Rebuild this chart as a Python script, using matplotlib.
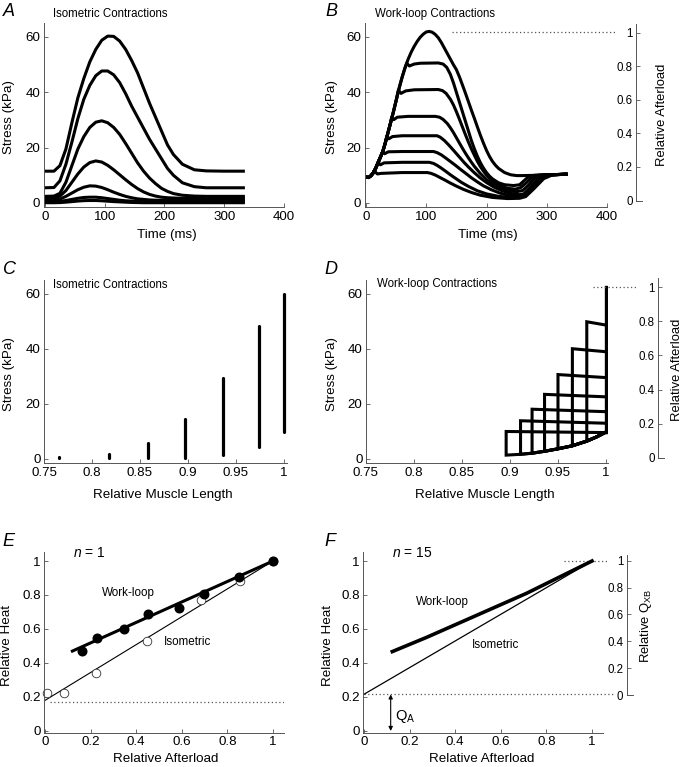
import matplotlib
matplotlib.use("Agg")
import matplotlib.pyplot as plt
import matplotlib.ticker as mticker

plt.rcParams["font.family"] = ["Liberation Sans", "DejaVu Sans"]
plt.rcParams["mathtext.fontset"] = "custom"
plt.rcParams["mathtext.rm"] = "Liberation Sans"
plt.rcParams["mathtext.it"] = "Liberation Sans:italic"

# ── A: isometric twitches (time ms, stress kPa), one per muscle length ──
A_TIME = [0, 15, 25, 35, 45, 55, 65, 75, 85, 95, 105, 115, 125, 135, 145,
          155, 165, 175, 185, 195, 205, 215, 230, 250, 270, 300, 332]
ISO_L100 = [11.5, 11.5, 13.5, 19.5, 29.0, 38.0, 45.0, 51.0, 55.5, 58.8, 60.3, 60.2, 58.5, 55.5, 51.5,
            47.0, 41.5, 36.0, 31.0, 26.0, 21.0, 17.5, 14.0, 12.0, 11.6, 11.5, 11.5]
ISO_L097 = [5.5, 5.6, 8.0, 14.0, 22.0, 30.5, 37.5, 42.5, 46.0, 47.7, 47.7, 46.3, 43.5, 39.5, 35.0,
            31.0, 27.0, 23.0, 19.5, 16.0, 12.5, 10.0, 7.3, 5.9, 5.5, 5.5, 5.5]
ISO_L094 = [2.4, 2.5, 3.5, 7.5, 13.5, 19.5, 24.0, 27.3, 29.2, 29.7, 29.0, 27.3, 24.8, 21.5, 18.0,
            14.5, 11.5, 9.0, 7.0, 5.3, 4.2, 3.4, 2.8, 2.5, 2.4, 2.4, 2.4]
ISO_L090 = [1.7, 1.8, 2.5, 4.5, 7.5, 10.5, 13.0, 14.6, 15.2, 14.8, 13.6, 12.0, 10.2, 8.4, 6.7,
            5.2, 4.0, 3.1, 2.5, 2.1, 1.9, 1.8, 1.7, 1.7, 1.7, 1.7, 1.7]
ISO_L086 = [1.0, 1.0, 1.4, 2.4, 3.6, 4.8, 5.7, 6.2, 6.1, 5.6, 4.8, 3.9, 3.1, 2.4, 1.9,
            1.5, 1.3, 1.1, 1.0, 1.0, 1.0, 1.0, 1.0, 1.0, 1.0, 1.0, 1.0]
ISO_L082 = [0.5, 0.5, 0.6, 0.9, 1.3, 1.7, 2.0, 2.1, 2.1, 1.9, 1.6, 1.3, 1.0, 0.8, 0.7,
            0.6, 0.5, 0.5, 0.5, 0.5, 0.5, 0.5, 0.5, 0.5, 0.5, 0.5, 0.5]
ISO_L077 = [0.1, 0.1, 0.15, 0.3, 0.5, 0.7, 0.85, 0.9, 0.9, 0.8, 0.65, 0.5, 0.4, 0.3, 0.2,
            0.15, 0.1, 0.1, 0.1, 0.1, 0.1, 0.1, 0.1, 0.1, 0.1, 0.1, 0.1]

# ── B: work-loop twitches; afterload 1 is the isometric envelope ──
WL_ENV_T = [0, 4, 8, 12, 16, 20, 24, 28, 32, 36, 40, 45, 50, 55, 60, 65, 70, 75, 80, 85,
            90, 95, 100, 105, 110, 115, 120, 125, 130, 135, 140, 145, 150, 155, 160, 165, 170, 175, 180, 185,
            190, 195, 200, 205, 210, 215, 220, 230, 240, 250, 260, 280, 300, 320, 332]
WL_ENV_S = [9.4, 9.2, 9.8, 10.9, 12.5, 14.6, 16.6, 18.7, 21.7, 25.0, 28.3, 32.5, 37.0, 41.5, 45.5, 49.0, 52.0, 54.5, 56.6, 58.4,
            59.9, 61.0, 61.8, 62.0, 61.7, 60.9, 59.7, 58.0, 56.0, 54.0, 52.0, 50.0, 48.2, 45.6, 42.7, 39.7, 36.6, 33.5, 30.5, 27.4,
            24.4, 21.6, 19.0, 16.8, 15.0, 13.6, 12.5, 11.0, 10.2, 9.9, 9.9, 10.0, 10.2, 10.3, 10.4]
WL50_T = [67.6, 72, 80, 90, 120, 128, 134, 140, 145, 150, 155, 160, 165, 170, 175, 180, 185, 190, 195, 200,
          205, 210, 220, 230, 245, 255, 262, 270, 280, 300, 320, 332]
WL50_S = [50.5, 49.5, 50.2, 50.5, 50.6, 50.2, 49.0, 46.5, 43.5, 40.0, 36.5, 33.0, 29.5, 26.0, 22.5, 19.5, 16.8, 14.5, 12.6, 11.0,
          9.7, 8.7, 7.3, 6.6, 6.3, 6.6, 8.0, 9.5, 10.0, 10.2, 10.3, 10.4]
WL41_T = [53.7, 58, 66, 80, 120, 127, 133, 140, 145, 150, 155, 160, 165, 170, 175, 180, 185, 190, 195, 200,
          210, 220, 235, 248, 257, 266, 276, 286, 300, 320, 332]
WL41_S = [40.8, 39.6, 40.5, 40.9, 41.0, 40.6, 39.6, 37.5, 35.5, 33.0, 30.3, 27.5, 24.7, 22.0, 19.5, 17.2, 15.0, 13.1, 11.5, 10.1,
          7.9, 6.5, 5.3, 5.0, 5.6, 7.3, 9.3, 10.0, 10.2, 10.3, 10.4]
WL31_T = [42.7, 46, 52, 70, 115, 122, 128, 135, 140, 145, 150, 155, 160, 165, 170, 175, 180, 190, 200, 210,
          220, 235, 250, 260, 270, 280, 290, 300, 320, 332]
WL31_S = [31.1, 30.1, 31.0, 31.3, 31.3, 31.0, 30.2, 28.7, 27.2, 25.5, 23.6, 21.7, 19.8, 18.0, 16.3, 14.7, 13.2, 10.6, 8.5, 6.8,
          5.6, 4.5, 4.1, 4.5, 6.5, 9.0, 10.0, 10.2, 10.3, 10.4]
WL24_T = [34.3, 38, 44, 60, 118, 123, 130, 138, 147, 155, 163, 170, 180, 190, 200, 212, 225, 240, 255, 262,
          272, 284, 295, 310, 332]
WL24_S = [24.1, 23.2, 24.0, 24.3, 24.3, 23.8, 22.6, 20.8, 18.6, 16.6, 14.6, 13.0, 10.9, 9.0, 7.4, 5.8, 4.5, 3.5, 3.0, 3.3,
          5.5, 8.5, 10.0, 10.2, 10.4]
WL18_T = [27.7, 31, 37, 60, 112, 118, 125, 132, 140, 148, 156, 165, 175, 185, 195, 208, 222, 238, 255, 262,
          274, 288, 300, 315, 332]
WL18_S = [18.5, 17.8, 18.5, 18.6, 18.6, 18.2, 17.4, 16.3, 15.0, 13.7, 12.3, 10.8, 9.1, 7.6, 6.2, 4.8, 3.6, 2.7, 2.4, 2.6,
          5.0, 8.5, 10.0, 10.2, 10.4]
WL15_T = [20.5, 24, 30, 60, 105, 112, 118, 125, 132, 140, 148, 158, 170, 185, 200, 220, 240, 258, 275, 292,
          305, 318, 332]
WL15_S = [14.6, 13.8, 14.5, 14.7, 14.7, 14.3, 13.6, 12.6, 11.5, 10.2, 9.0, 7.5, 6.0, 4.4, 3.3, 2.4, 2.0, 2.2, 5.0, 8.8,
          10.1, 10.3, 10.4]
WL11_T = [12.2, 15, 19, 25, 60, 102, 108, 115, 122, 130, 140, 150, 162, 175, 190, 210, 235, 255, 265, 278,
          295, 310, 322, 332]
WL11_S = [10.9, 11.3, 10.5, 10.7, 11.0, 11.0, 10.7, 10.1, 9.3, 8.4, 7.2, 6.1, 4.9, 3.8, 2.8, 2.0, 1.6, 1.7, 2.3, 5.0,
          8.8, 10.2, 10.3, 10.4]
B_PEAK = 61.8  # stress at relative afterload 1

# ── C: isometric stress range at each relative muscle length ──
ISO_LEN = [0.766, 0.818, 0.858, 0.897, 0.936, 0.974, 1.0]
ISO_MIN = [0.3, 0.5, 0.2, 0.5, 1.4, 4.4, 9.8]
ISO_MAX = [0.7, 1.8, 5.7, 14.7, 29.6, 48.3, 59.9]

# ── D: work-loop stress-length loops ──
LOOP_LMIN = [0.980, 0.965, 0.950, 0.936, 0.923, 0.911, 0.896]
LOOP_TOP = [49.9, 40.1, 30.7, 23.5, 18.1, 13.9, 10.0]      # at shortest length
LOOP_TOP_R = [48.7, 39.0, 29.6, 22.6, 17.2, 13.0, 9.6]     # at full length
PASSIVE_L = [0.896, 0.911, 0.923, 0.936, 0.950, 0.965, 0.980, 0.990, 1.0]
PASSIVE_S = [1.4, 1.7, 2.1, 2.8, 3.7, 4.8, 6.5, 8.0, 9.8]
D_ISO_MIN, D_ISO_MAX = 9.8, 62.4

# ── E: n = 1 ──
WL_AFTERLOAD = [0.161, 0.2295, 0.348, 0.453, 0.586, 0.699, 0.849, 1.0]
WL_HEAT = [0.4725, 0.545, 0.600, 0.688, 0.7255, 0.808, 0.908, 1.0]
ISO_AFTERLOAD = [0.007, 0.083, 0.224, 0.447, 0.686, 0.854, 1.0]
ISO_HEAT = [0.222, 0.226, 0.341, 0.527, 0.769, 0.884, 1.0]
E_WL_FIT_X, E_WL_FIT_Y = [0.12, 1.0], [0.47, 1.0]
E_ISO_FIT_X, E_ISO_FIT_Y = [0.0, 1.0], [0.18, 1.0]
E_BASAL = 0.172

# ── F: n = 15 ──
F_WL_X = [0.124, 0.275, 0.5, 0.713, 1.0]
F_WL_Y = [0.467, 0.551, 0.684, 0.81, 1.0]
F_ISO_X, F_ISO_Y = [0.0, 1.0], [0.216, 1.0]
Q_A = 0.215

# ── layout helpers (pixels of the 685 x 767 figure) ──
W, H = 685, 767
AX_C = "#555555"
FS = 9.6
G = mticker.FuncFormatter(lambda v, _: f"{v:g}")

fig = plt.figure(figsize=(W / 100, H / 100), dpi=100)


def rect(x0, y0, x1, y1):
    return [x0 / W, 1 - y1 / H, (x1 - x0) / W, (y1 - y0) / H]


def fxy(x, y):
    return (x / W, 1 - y / H)


def style(ax):
    for s in ("top", "right"):
        ax.spines[s].set_visible(False)
    for s in ("left", "bottom"):
        ax.spines[s].set_color(AX_C)
        ax.spines[s].set_linewidth(0.7)
    ax.tick_params(direction="in", length=3, width=0.6, color=AX_C, labelsize=FS, pad=2.5)
    ax.xaxis.set_major_formatter(G)
    ax.yaxis.set_major_formatter(G)


def labels(ax, xlab, xpos, ylab, ypos):
    ax.set_xlabel(xlab, fontsize=FS)
    ax.xaxis.label.set_va("center")
    ax.xaxis.set_label_coords(*fxy(*xpos), transform=fig.transFigure)
    ax.set_ylabel(ylab, fontsize=FS)
    ax.yaxis.label.set_va("center")
    ax.yaxis.set_label_coords(*fxy(*ypos), transform=fig.transFigure)


def side_axis(x, y_zero, ppu, top, label, lab_pos):
    sa = fig.add_axes(rect(x, y_zero - top * ppu, x + 6, y_zero))
    sa.patch.set_visible(False)
    style(sa)
    sa.set_xlim(0, 1)
    sa.set_ylim(0, top)
    sa.set_xticks([])
    sa.set_yticks([0, 0.2, 0.4, 0.6, 0.8, 1.0])
    sa.tick_params(labelsize=8.3)
    sa.yaxis.set_label_position("right")
    sa.set_ylabel(label, fontsize=9.4)
    sa.yaxis.label.set_va("center")
    sa.yaxis.set_label_coords(*fxy(*lab_pos), transform=fig.transFigure)
    return sa


def panel_letter(ch, x, y):
    fig.text(*fxy(x, y), ch, fontsize=13, style="italic", ha="center", va="center")


def inset_title(txt, x, y):
    fig.text(*fxy(x, y), txt, fontsize=8.3, ha="left", va="center")


LW = 2.2
DOT = dict(color=AX_C, lw=0.9, linestyle=(0, (1, 2)))

# ════════ A ════════
ax_a = fig.add_axes(rect(43.8, 23.1, 284, 207.15))
style(ax_a)
for s in (ISO_L077, ISO_L082, ISO_L086, ISO_L090, ISO_L094, ISO_L097, ISO_L100):
    ax_a.plot(A_TIME, s, color="black", lw=LW)
ax_a.set_xlim(-2, 400)
ax_a.set_ylim(-1.5, 65)
ax_a.set_xticks([0, 100, 200, 300, 400])
ax_a.set_yticks([0, 20, 40, 60])
labels(ax_a, "Time (ms)", (167, 235), "Stress (kPa)", (8.7, 117))
panel_letter("A", 9, 11)
inset_title("Isometric Contractions", 53, 14)

# ════════ B ════════
ax_b = fig.add_axes(rect(364.8, 23.1, 607, 207.15))
style(ax_b)
ax_b.plot(WL_ENV_T, WL_ENV_S, color="black", lw=LW)
for tt, ss in ((WL50_T, WL50_S), (WL41_T, WL41_S), (WL31_T, WL31_S), (WL24_T, WL24_S),
               (WL18_T, WL18_S), (WL15_T, WL15_S), (WL11_T, WL11_S)):
    # each afterloaded twitch follows the isometric envelope until it reaches its load
    pre = [(t, s) for t, s in zip(WL_ENV_T, WL_ENV_S) if t < tt[0]]
    ax_b.plot([p[0] for p in pre] + tt, [p[1] for p in pre] + ss, color="black", lw=LW)
ax_b.plot([142.7, 415], [B_PEAK, B_PEAK], clip_on=False, **DOT)
ax_b.set_xlim(-2, 400)
ax_b.set_ylim(-1.5, 65)
ax_b.set_xticks([0, 100, 200, 300, 400])
ax_b.set_yticks([0, 20, 40, 60])
labels(ax_b, "Time (ms)", (488, 235), "Stress (kPa)", (332, 117))
side_axis(636, 200.5, 168, 1.05, "Relative Afterload", (662, 115))
panel_letter("B", 331, 11)
inset_title("Work-loop Contractions", 375, 14)

# ════════ C ════════
ax_c = fig.add_axes(rect(44, 280.25, 286.9, 463.1))
style(ax_c)
ax_c.vlines(ISO_LEN, ISO_MIN, ISO_MAX, color="black", lw=2.3, capstyle="round")
ax_c.set_xlim(0.75, 1.003)
ax_c.set_ylim(-1.5, 65)
ax_c.set_xticks([0.75, 0.8, 0.85, 0.9, 0.95, 1.0])
ax_c.set_yticks([0, 20, 40, 60])
labels(ax_c, "Relative Muscle Length", (163, 495), "Stress (kPa)", (8.7, 374))
panel_letter("C", 9, 270)
inset_title("Isometric Contractions", 53, 285)

# ════════ D ════════
ax_d = fig.add_axes(rect(366, 280.25, 607.9, 463.1))
style(ax_d)
for lmin, top, top_r in zip(LOOP_LMIN, LOOP_TOP, LOOP_TOP_R):
    bottom = [(l, s) for l, s in zip(PASSIVE_L, PASSIVE_S) if l >= lmin]
    xs = [1.0, lmin] + [b[0] for b in bottom]
    ys = [top_r, top] + [b[1] for b in bottom]
    ax_d.plot(xs, ys, color="black", lw=LW, solid_joinstyle="miter")
ax_d.plot([1.0, 1.0], [D_ISO_MIN, D_ISO_MAX], color="black", lw=2.4)
ax_d.plot([0.986, 1.032], [D_ISO_MAX, D_ISO_MAX], clip_on=False, **DOT)
ax_d.set_xlim(0.75, 1.002)
ax_d.set_ylim(-1.5, 65)
ax_d.set_xticks([0.75, 0.8, 0.85, 0.9, 0.95, 1.0])
ax_d.set_yticks([0, 20, 40, 60])
labels(ax_d, "Relative Muscle Length", (485, 495), "Stress (kPa)", (332, 374))
side_axis(658.3, 458, 171, 1.05, "Relative Afterload", (677, 370))
panel_letter("D", 331, 270)
inset_title("Work-loop Contractions", 376.7, 284)

# ════════ E ════════
ax_e = fig.add_axes(rect(44.1, 552, 284.4, 733))
style(ax_e)
ax_e.plot([0.022, 1.048], [E_BASAL, E_BASAL], **DOT)
ax_e.plot(E_ISO_FIT_X, E_ISO_FIT_Y, color="black", lw=0.8)
ax_e.plot(E_WL_FIT_X, E_WL_FIT_Y, color="black", lw=2.2)
ax_e.plot(ISO_AFTERLOAD, ISO_HEAT, "o", ms=6.2, mfc="white", mec="#333333", mew=0.6,
          clip_on=False)
ax_e.plot(WL_AFTERLOAD, WL_HEAT, "o", ms=6.2, color="black", clip_on=False)
ax_e.set_xlim(-0.004, 1.05)
ax_e.set_ylim(-0.012, 1.053)
ax_e.set_xticks([0, 0.2, 0.4, 0.6, 0.8, 1.0])
ax_e.set_yticks([0, 0.2, 0.4, 0.6, 0.8, 1.0])
ax_e.text(0.123, 1.047, "$n$ = 1", fontsize=10, ha="left", va="center")
ax_e.text(0.364, 0.81, "Work-loop", fontsize=8.4, ha="center", va="center")
ax_e.text(0.625, 0.523, "Isometric", fontsize=8.4, ha="center", va="center")
labels(ax_e, "Relative Afterload", (166, 759), "Relative Heat", (7.5, 645))
panel_letter("E", 8, 541)

# ════════ F ════════
ax_f = fig.add_axes(rect(363.1, 552, 603.4, 733))
style(ax_f)
ax_f.plot([0.0, 1.092], [Q_A, Q_A], clip_on=False, **DOT)
ax_f.plot([0.877, 1.07], [1.0, 1.0], clip_on=False, **DOT)
ax_f.plot(F_ISO_X, F_ISO_Y, color="black", lw=0.9)
ax_f.plot(F_WL_X, F_WL_Y, color="black", lw=2.6)
ax_f.annotate("", xy=(0.117, 0.0), xytext=(0.117, Q_A),
              arrowprops=dict(arrowstyle="<|-|>", lw=0.8, color="black",
                              mutation_scale=6, shrinkA=0, shrinkB=0))
ax_f.set_xlim(-0.004, 1.05)
ax_f.set_ylim(-0.012, 1.053)
ax_f.set_xticks([0, 0.2, 0.4, 0.6, 0.8, 1.0])
ax_f.set_yticks([0, 0.2, 0.4, 0.6, 0.8, 1.0])
ax_f.text(0.121, 1.047, "$n$ = 15", fontsize=10, ha="left", va="center")
ax_f.text(0.344, 0.761, "Work-loop", fontsize=8.4, ha="center", va="center")
ax_f.text(0.579, 0.506, "Isometric", fontsize=8.4, ha="center", va="center")
ax_f.text(0.136, 0.084, r"Q$_{\rm A}$", fontsize=10.5, ha="left", va="center")
labels(ax_f, "Relative Afterload", (482, 759), "Relative Heat", (328, 645))
side_axis(626.7, 695, 134.3, 1.04, r"Relative Q$_{\rm XB}$", (646, 626))
panel_letter("F", 330, 541)

fig.savefig("out.png", dpi=100)
